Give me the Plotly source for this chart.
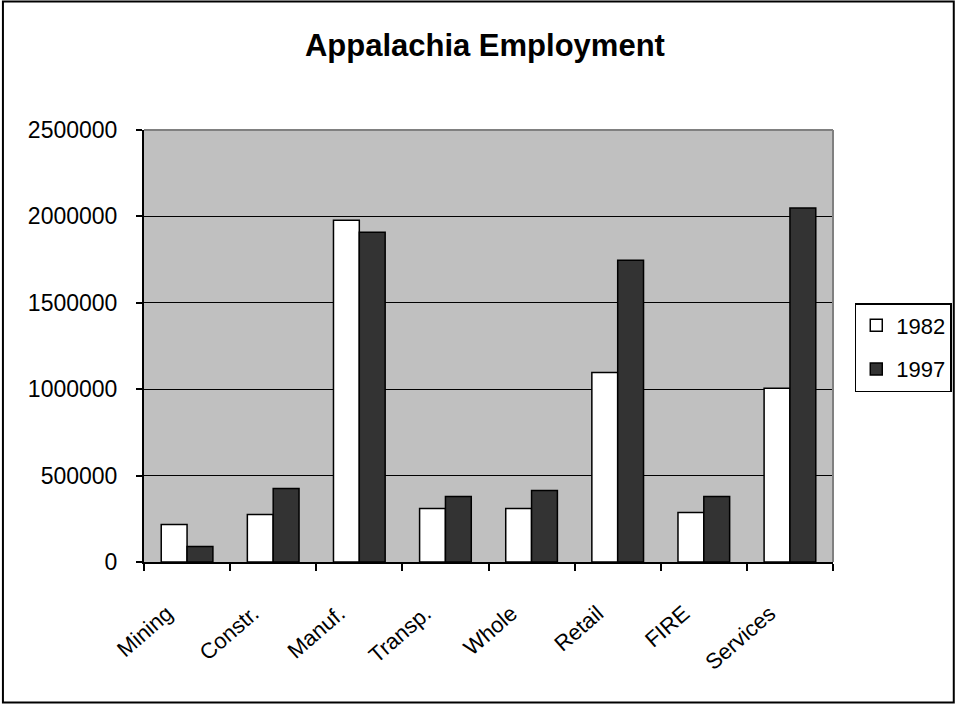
import plotly.graph_objects as go

# Employment by sector, Appalachia
sectors = ["Mining", "Constr.", "Manuf.", "Transp.", "Whole", "Retail", "FIRE", "Services"]
emp_1982 = [217000, 275000, 1978000, 309000, 309000, 1097000, 286000, 1005000]
emp_1997 = [89000, 425000, 1908000, 379000, 414000, 1746000, 379000, 2048000]
y_ticks = [0, 500000, 1000000, 1500000, 2000000, 2500000]

FONT = "Arial, 'Liberation Sans', sans-serif"

# plot-area geometry in pixels (used to place the frame and legend in paper units)
W, H = 964, 704
L, R, T, B = 144, 124, 130, 142
PW, PH = W - L - R, H - T - B


def px_x(x):
    return (x - L) / PW


def px_y(y):
    return (H - B - y) / PH


fig = go.Figure()
fig.add_trace(go.Bar(
    x=sectors, y=emp_1982, name="1982", legendgroup="a",
    marker=dict(color="#FFFFFF", line=dict(color="#000000", width=1.5)),
))
fig.add_trace(go.Bar(
    x=sectors, y=emp_1997, name="1997", legendgroup="b",
    marker=dict(color="#333333", line=dict(color="#000000", width=1.5)),
))

fig.update_layout(
    width=W, height=H,
    margin=dict(l=L, r=R, t=T, b=B, pad=0),
    paper_bgcolor="#FFFFFF",
    plot_bgcolor="#C0C0C0",
    barmode="group", bargap=0.4, bargroupgap=0,
    font=dict(family=FONT, color="#000000"),
    title=dict(text="<b>Appalachia Employment</b>", x=0.503, xanchor="center",
               y=1 - 45 / H, yanchor="middle", font=dict(size=31, family=FONT)),
    showlegend=True,
    legend=dict(
        x=px_x(862), xanchor="left", y=px_y(303), yanchor="top",
        bordercolor="#000000", borderwidth=1.5, bgcolor="#FFFFFF",
        font=dict(size=22, family=FONT), traceorder="grouped", tracegroupgap=12,
        itemwidth=30,
    ),
)

fig.update_yaxes(
    range=[0, 2500000], tickvals=y_ticks, ticktext=[str(v) for v in y_ticks],
    showgrid=True, gridcolor="#000000", gridwidth=1,
    showline=True, linecolor="#000000", linewidth=2,
    ticks="outside", ticklen=6, tickwidth=2, tickcolor="#000000",
    tickfont=dict(size=23, family=FONT), ticklabelstandoff=14,
    zeroline=False, fixedrange=True,
)
fig.update_xaxes(
    type="category", tickangle=-41, tickson="boundaries",
    showline=True, linecolor="#000000", linewidth=2,
    ticks="outside", ticklen=7, tickwidth=2, tickcolor="#000000",
    tickfont=dict(size=22, family=FONT), ticklabelstandoff=28, ticklabelshift=-20,
    showgrid=False, fixedrange=True,
)

# gray top and right border of the plot area
fig.add_shape(type="line", xref="paper", yref="paper", x0=0, x1=1, y0=1, y1=1,
              line=dict(color="#808080", width=2), layer="above")
fig.add_shape(type="line", xref="paper", yref="paper", x0=1, x1=1, y0=0, y1=1,
              line=dict(color="#808080", width=2), layer="above")

# outer chart frame
fig.add_shape(type="rect", xref="paper", yref="paper",
              x0=px_x(1.5), x1=px_x(962), y0=px_y(702.5), y1=px_y(1.5),
              line=dict(color="#000000", width=2), fillcolor="rgba(0,0,0,0)", layer="above")

fig.write_html("out.html")
